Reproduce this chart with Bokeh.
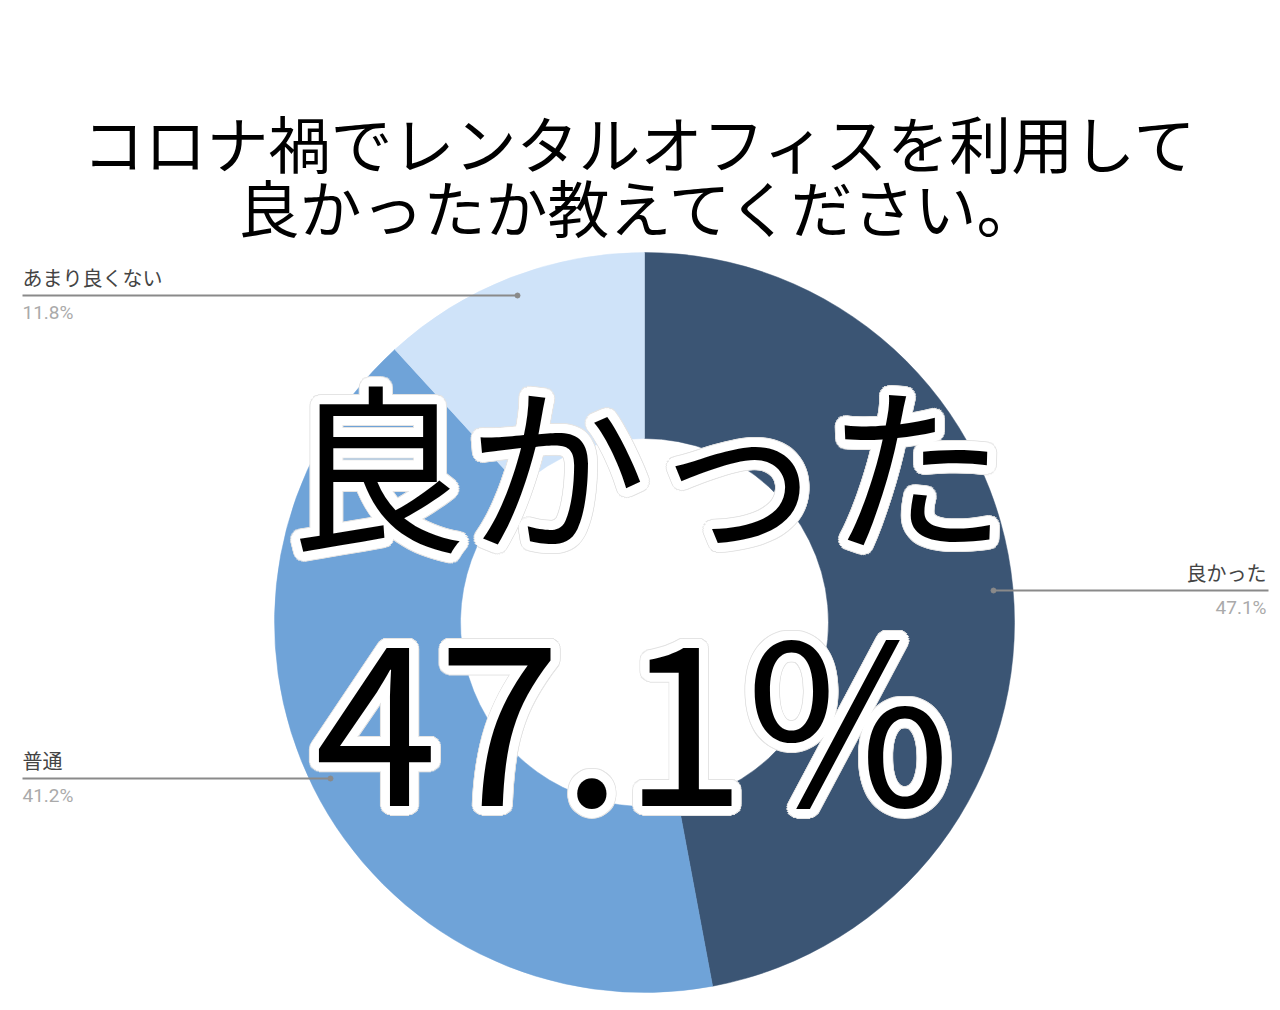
import math
from bokeh.plotting import figure
from bokeh.models import Range1d, ColumnDataSource
from bokeh.core.properties import value
from bokeh.embed import file_html
from bokeh.resources import INLINE

# ---- data ----
categories = ["良かった", "普通", "あまり良くない"]
shares = [47.1, 41.2, 11.8]
pct_labels = ["47.1%", "41.2%", "11.8%"]
colors = ["#3b5574", "#6fa3d8", "#cfe3f9"]
title_lines = ["コロナ禍でレンタルオフィスを利用して", "良かったか教えてください。"]
big_label = "良かった"
big_value = "47.1%"

FONT = "Noto Sans CJK JP"
W, H = 1272, 1002


def Y(img_y):
    return 1010 - img_y


p = figure(width=W, height=H, output_backend="svg", toolbar_location=None,
           x_range=Range1d(0, W), y_range=Range1d(1010 - H, 1010),
           min_border=0)
p.axis.visible = False
p.grid.visible = False
p.outline_line_color = None
p.background_fill_color = "white"
p.border_fill_color = "white"

# ---- donut ----
cx, cy = 644, Y(622)
r_out, r_in = 370, 184
total = sum(shares)
starts, ends = [], []
acc = 0.0
for s in shares:
    starts.append(math.pi / 2 - 2 * math.pi * acc / total)
    acc += s
    ends.append(math.pi / 2 - 2 * math.pi * acc / total)
src = ColumnDataSource(dict(start=starts, end=ends, color=colors, cat=categories))
p.annular_wedge(x=cx, y=cy, inner_radius=r_in, outer_radius=r_out,
                start_angle="start", end_angle="end", direction="clock",
                fill_color="color", line_color="color", line_width=0.5, source=src)

# ---- leader labels ----
leaders = {
    "良かった": (1266, 590, 993, 1268, "right"),
    "普通": (22, 778, 22, 330, "left"),
    "あまり良くない": (22, 295, 22, 517, "left"),
}
for cat, pct in zip(categories, pct_labels):
    lx, ly, x0, x1, al = leaders[cat]
    p.segment(x0=x0, y0=Y(ly), x1=x1, y1=Y(ly), line_color="#8a8a8a", line_width=2)
    dotx = x0 if al == "right" else x1
    p.scatter(x=[dotx], y=[Y(ly)], size=5, color="#8a8a8a")
    p.text(x=[lx], y=[Y(ly) + 4], text=[cat], text_font=value(FONT),
           text_font_size="20px", text_color="#444444", text_align=al,
           text_baseline="bottom")
    p.text(x=[lx], y=[Y(ly) - 5], text=[pct], text_font=value("Roboto"),
           text_font_size="19px", text_color="#aaaaaa", text_align=al,
           text_baseline="top")

# ---- title ----
p.text(x=[640, 640], y=[Y(141), Y(205)], text=title_lines, text_font=value(FONT),
       text_font_size="62px", text_color="black", text_align="center",
       text_baseline="middle")


# ---- big outlined text ----
def outlined(x, y, txt, size):
    for rad, col in ((10, "#e4e4e4"), (9, "white"), (5, "white")):
        n = 36
        for k in range(n):
            a = 2 * math.pi * k / n
            p.text(x=[x], y=[y], text=[txt], text_font=value(FONT),
                   text_font_size=size, text_color=col, text_align="center",
                   text_baseline="middle", x_offset=rad * math.cos(a),
                   y_offset=rad * math.sin(a))
    p.text(x=[x], y=[y], text=[txt], text_font=value(FONT), text_font_size=size,
           text_color="black", text_align="center", text_baseline="middle")


outlined(646, Y(459), big_label, "180px")
outlined(632, Y(708), big_value, "222px")

open("out.html", "w").write(file_html(p, INLINE))
